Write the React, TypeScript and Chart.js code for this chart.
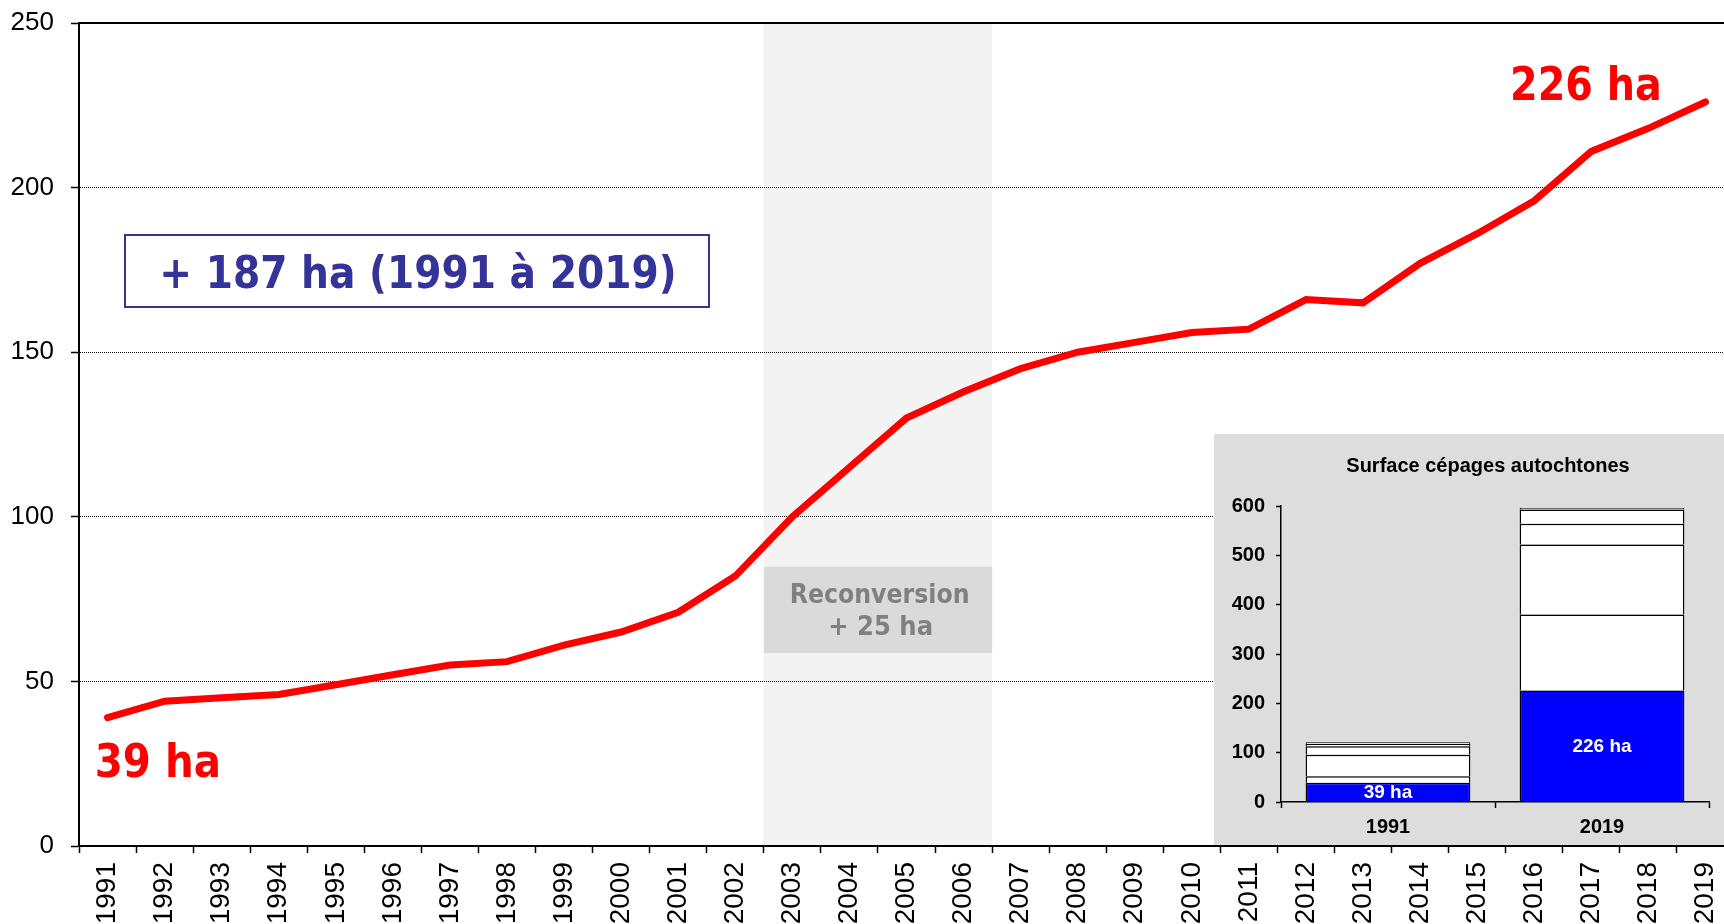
import React, { useEffect, useRef } from 'react';
import { Chart, registerables } from 'chart.js';

Chart.register(...registerables);

// ---------- data ----------
const years = [
  '1991', '1992', '1993', '1994', '1995', '1996', '1997', '1998', '1999', '2000',
  '2001', '2002', '2003', '2004', '2005', '2006', '2007', '2008', '2009', '2010',
  '2011', '2012', '2013', '2014', '2015', '2016', '2017', '2018', '2019',
];
const surfaceHa = [
  39, 44, 45, 46, 49, 52, 55, 56, 61, 65,
  71, 82, 100, 115, 130, 138, 145, 150, 153, 156,
  157, 166, 165, 177, 186, 196, 211, 218, 226,
];
const yMin = 0;
const yMax = 250;
const yStep = 50;
const bandStart = '2003';
const bandEnd = '2006';

const insetCategories = ['1991', '2019'];
const insetAutochtones = [39, 226];
const insetSeg2 = [13, 154];
const insetSeg3 = [44, 142];
const insetSeg4 = [17, 42];
const insetSeg5 = [5, 29];
const insetSeg6 = [3, 3];
const insetLabels = ['39 ha', '226 ha'];
const insetMax = 600;
const insetStep = 100;

const txtStart = '39 ha';
const txtEnd = '226 ha';
const txtGain = '+ 187 ha (1991 à 2019)';
const txtBand1 = 'Reconversion';
const txtBand2 = '+ 25 ha';
const insetTitle = 'Surface cépages autochtones';

const ARIAL = "'Liberation Sans', Arial, sans-serif";
const TAHOMA = "'DejaVu Sans', Verdana, sans-serif";

function fitText(
  ctx: CanvasRenderingContext2D,
  text: string,
  inkLeft: number,
  baseline: number,
  inkWidth: number,
  size: number,
  color: string,
) {
  ctx.save();
  ctx.font = `bold ${size}px ${TAHOMA}`;
  ctx.textAlign = 'left';
  ctx.textBaseline = 'alphabetic';
  const m = ctx.measureText(text);
  const w = m.actualBoundingBoxLeft + m.actualBoundingBoxRight;
  const s = inkWidth / w;
  ctx.translate(inkLeft, baseline);
  ctx.scale(s, 1);
  ctx.fillStyle = color;
  ctx.fillText(text, m.actualBoundingBoxLeft, 0);
  ctx.restore();
}

const zeroPad = (s: any) => {
  s.paddingTop = 0;
  s.paddingBottom = 0;
  s.paddingLeft = 0;
  s.paddingRight = 0;
};

const mainPlugin = {
  id: 'mainDecor',
  beforeDraw(chart: any) {
    const { ctx, chartArea, scales } = chart;
    const x = scales.x;
    const y = scales.y;
    const cw = x.getPixelForValue(1) - x.getPixelForValue(0);
    const i0 = years.indexOf(bandStart);
    const i1 = years.indexOf(bandEnd);
    const left = x.getPixelForValue(i0) - cw / 2;
    const right = x.getPixelForValue(i1) + cw / 2;
    ctx.save();
    ctx.fillStyle = '#f3f3f3';
    ctx.fillRect(left, chartArea.top, right - left, chartArea.bottom - chartArea.top);
    const bt = y.getPixelForValue(84.8);
    const bb = y.getPixelForValue(58.6);
    ctx.fillStyle = '#dadada';
    ctx.fillRect(left, bt, right - left, bb - bt);
    ctx.restore();
  },
  afterDraw(chart: any) {
    const { ctx, chartArea, scales } = chart;
    const x = scales.x;
    const y = scales.y;
    const cw = x.getPixelForValue(1) - x.getPixelForValue(0);
    const xAt = (i: number) => x.getPixelForValue(0) + i * cw;

    // top frame line
    ctx.save();
    ctx.strokeStyle = '#000';
    ctx.lineWidth = 2;
    ctx.beginPath();
    ctx.moveTo(chartArea.left - 1, Math.round(chartArea.top));
    ctx.lineTo(chartArea.right, Math.round(chartArea.top));
    ctx.stroke();
    ctx.restore();

    // band text
    const i0 = years.indexOf(bandStart);
    const i1 = years.indexOf(bandEnd);
    const bandCenter = (x.getPixelForValue(i0) + x.getPixelForValue(i1)) / 2;
    fitText(ctx, txtBand1, bandCenter + 2 - 177 / 2, y.getPixelForValue(73.7), 177, 27, '#808080');
    fitText(ctx, txtBand2, bandCenter + 3 - 102 / 2, y.getPixelForValue(64.1), 102, 27, '#808080');

    // gain box
    const bl = xAt(0.303);
    const br = xAt(10.53);
    const btp = y.getPixelForValue(185.6);
    const bbt = y.getPixelForValue(163.7);
    ctx.save();
    ctx.fillStyle = '#ffffff';
    ctx.fillRect(bl, btp, br - bl, bbt - btp);
    ctx.strokeStyle = '#333399';
    ctx.lineWidth = 2;
    ctx.strokeRect(Math.round(bl), Math.round(btp), Math.round(br - bl), Math.round(bbt - btp));
    ctx.restore();
    fitText(ctx, txtGain, xAt(0.969), y.getPixelForValue(169.5), 511, 44, '#333399');

    // start / end values
    fitText(ctx, txtStart, xAt(-0.18), y.getPixelForValue(21), 121, 46, '#ff0000');
    fitText(ctx, txtEnd, xAt(24.62), y.getPixelForValue(226.6), 147, 47, '#ff0000');
  },
};

const insetPlugin = {
  id: 'insetDecor',
  afterDraw(chart: any) {
    const { ctx } = chart;
    ctx.save();
    ctx.font = `bold 20px ${ARIAL}`;
    ctx.fillStyle = '#000';
    ctx.textAlign = 'center';
    ctx.textBaseline = 'middle';
    ctx.fillText(insetTitle, 274, 32);
    const meta = chart.getDatasetMeta(0);
    ctx.fillStyle = '#ffffff';
    ctx.font = `bold 19px ${ARIAL}`;
    meta.data.forEach((bar: any, i: number) => {
      const cy = (bar.y + bar.base) / 2;
      ctx.fillText(insetLabels[i], bar.x, cy + 1);
    });
    ctx.restore();
  },
};

export default function App() {
  const mainRef = useRef<HTMLCanvasElement>(null);
  const insetRef = useRef<HTMLCanvasElement>(null);

  useEffect(() => {
    if (!mainRef.current || !insetRef.current) return;
    const main = new Chart(mainRef.current, {
      type: 'line',
      data: {
        labels: years,
        datasets: [
          {
            data: surfaceHa,
            borderColor: '#ff0000',
            backgroundColor: '#ff0000',
            borderWidth: 7,
            pointRadius: 0,
            pointHoverRadius: 0,
            tension: 0,
            borderCapStyle: 'round',
            borderJoinStyle: 'miter',
            fill: false,
          },
        ],
      },
      options: {
        responsive: false,
        maintainAspectRatio: false,
        animation: false,
        events: [],
        layout: { padding: { top: 23, right: 6, left: 0, bottom: 0 } },
        plugins: {
          legend: { display: false },
          tooltip: { enabled: false },
          title: { display: false },
        },
        scales: {
          x: {
            type: 'category',
            offset: true,
            grid: {
              display: true,
              drawOnChartArea: false,
              drawTicks: true,
              offset: true,
              tickLength: 7,
              tickColor: '#000',
              tickWidth: 1.5,
            },
            border: { display: true, color: '#000', width: 2 },
            ticks: {
              autoSkip: false,
              minRotation: 90,
              maxRotation: 90,
              padding: 9,
              color: '#000',
              font: { family: ARIAL, size: 28 },
            },
            afterFit: (s: any) => {
              s.height = 78;
              zeroPad(s);
            },
          },
          y: {
            min: yMin,
            max: yMax,
            ticks: {
              stepSize: yStep,
              padding: 17,
              color: '#000',
              font: { family: ARIAL, size: 26 },
            },
            grid: {
              color: (c: any) =>
                c.tick && (c.tick.value === yMin || c.tick.value === yMax) ? 'rgba(0,0,0,0)' : '#000',
              lineWidth: 1,
              tickColor: '#000',
              tickLength: 8,
              tickWidth: 1.5,
            },
            border: { display: true, color: '#000', width: 2, dash: [1, 1] },
            afterFit: (s: any) => {
              s.width = 79;
              zeroPad(s);
            },
          },
        },
      } as any,
      plugins: [mainPlugin],
    });

    const white = (d: number[]) => ({
      data: d,
      backgroundColor: '#ffffff',
      borderColor: '#000',
      borderWidth: 1.5,
    });
    const inset = new Chart(insetRef.current, {
      type: 'bar',
      data: {
        labels: insetCategories,
        datasets: [
          { data: insetAutochtones, backgroundColor: '#0000ff', borderColor: '#000', borderWidth: 1.5 },
          white(insetSeg2),
          white(insetSeg3),
          white(insetSeg4),
          white(insetSeg5),
          white(insetSeg6),
        ],
      },
      options: {
        responsive: false,
        maintainAspectRatio: false,
        animation: false,
        events: [],
        layout: { padding: { top: 72, right: 15, left: 0, bottom: 0 } },
        datasets: { bar: { barPercentage: 0.77, categoryPercentage: 1 } },
        plugins: {
          legend: { display: false },
          tooltip: { enabled: false },
          title: { display: false },
        },
        scales: {
          x: {
            stacked: true,
            grid: {
              offset: true,
              drawOnChartArea: false,
              tickLength: 6,
              tickColor: '#000',
              tickWidth: 1.5,
            },
            border: { display: true, color: '#000', width: 1.5 },
            ticks: { padding: 7, color: '#000', font: { family: ARIAL, size: 20, weight: 'bold' } },
            afterFit: (s: any) => {
              s.height = 43;
              zeroPad(s);
            },
          },
          y: {
            stacked: true,
            min: 0,
            max: insetMax,
            ticks: {
              stepSize: insetStep,
              padding: 11,
              color: '#000',
              font: { family: ARIAL, size: 20, weight: 'bold' },
            },
            grid: {
              drawOnChartArea: false,
              tickLength: 5,
              tickColor: '#000',
              tickWidth: 1.5,
            },
            border: { display: true, color: '#000', width: 1.5 },
            afterFit: (s: any) => {
              s.width = 67;
              zeroPad(s);
            },
          },
        },
      } as any,
      plugins: [insetPlugin],
    });

    return () => {
      main.destroy();
      inset.destroy();
    };
  }, []);

  return (
    <div
      style={{
        position: 'fixed',
        left: 0,
        top: 0,
        width: 1724,
        height: 924,
        overflow: 'hidden',
        background: '#ffffff',
      }}
    >
      <canvas
        ref={mainRef}
        width={1740}
        height={924}
        style={{ position: 'absolute', left: 0, top: 0, width: 1740, height: 924 }}
      />
      <div
        style={{
          position: 'absolute',
          left: 1214,
          top: 434,
          width: 510,
          height: 411,
          background: '#dddddd',
        }}
      >
        <canvas ref={insetRef} width={510} height={411} style={{ display: 'block', width: 510, height: 411 }} />
      </div>
    </div>
  );
}
